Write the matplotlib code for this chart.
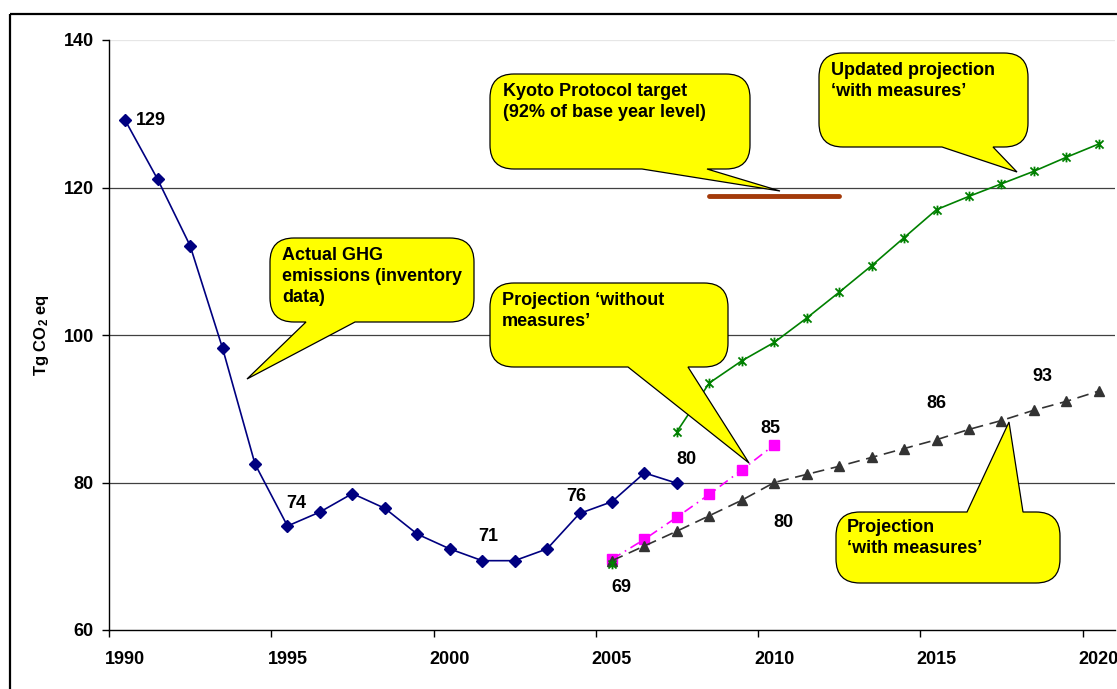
import numpy as np
import matplotlib
matplotlib.use('Agg')
import matplotlib.pyplot as plt
from matplotlib.path import Path
from matplotlib.patches import PathPatch, Rectangle
from matplotlib.transforms import Affine2D

plt.rcParams['font.family'] = ['Liberation Sans', 'DejaVu Sans']
plt.rcParams['font.weight'] = 'bold'
plt.rcParams['mathtext.fontset'] = 'custom'
plt.rcParams['mathtext.rm'] = 'Liberation Sans:bold'
plt.rcParams['mathtext.it'] = 'Liberation Sans:bold'
plt.rcParams['mathtext.bf'] = 'Liberation Sans:bold'

# data
tick_years = [1990, 1995, 2000, 2005, 2010, 2015, 2020]

actual_years = list(range(1990, 2008))
actual = [129.1, 121.1, 112.1, 98.2, 82.5, 74.1, 76.0, 78.5, 76.5, 73.0,
          71.0, 69.4, 69.4, 71.0, 75.8, 77.4, 81.3, 79.9]

without_years = list(range(2005, 2011))
without = [69.6, 72.3, 75.3, 78.4, 81.7, 85.1]

with_years = list(range(2005, 2021))
with_meas = [69.4, 71.4, 73.4, 75.5, 77.6, 80.0, 81.1, 82.2, 83.4, 84.6,
             85.8, 87.2, 88.4, 89.8, 91.0, 92.4]

updated_years = list(range(2005, 2021))
updated = [69.0, np.nan, 86.9, 93.5, 96.5, 99.0, 102.3, 105.8, 109.4, 113.2,
           117.0, 118.8, 120.5, 122.2, 124.1, 125.9]

kyoto_years = [2008, 2012]
kyoto = [118.8, 118.8]

# labels: (years, values, year, text, dx, dy, ha) offsets in pixels
point_labels = [
    (actual_years, actual, 1990, '129', 11, 0, 'left'),
    (actual_years, actual, 1995, '74', 9, 23, 'center'),
    (actual_years, actual, 2001, '71', 6, 24, 'center'),
    (actual_years, actual, 2004, '76', -3, 17, 'center'),
    (actual_years, actual, 2007, '80', 10, 24, 'center'),
    (without_years, without, 2010, '85', -4, 16, 'center'),
    (updated_years, updated, 2005, '69', 9, -24, 'center'),
    (with_years, with_meas, 2010, '80', 9, -40, 'center'),
    (with_years, with_meas, 2015, '86', 0, 36, 'center'),
    (with_years, with_meas, 2018, '93', 9, 34, 'center'),
]

W, H = 1117, 689
fig = plt.figure(figsize=(W / 100, H / 100), dpi=100)
ax = fig.add_axes([109 / W, 1 - 630 / H, 1006 / W, 590 / H])

def pos(yrs):
    return [y - 1990 + 0.5 for y in yrs]

for g in [80, 100, 120]:
    ax.axhline(g, color='#404040', lw=0.9, zorder=1)
ax.axhline(140, color='#e6e6e6', lw=0.9, zorder=1)

ax.plot(pos(actual_years), actual, color='#000080', lw=1.2, marker='D', ms=6, zorder=3)
ax.plot(pos(without_years), without, color='#ff00ff', lw=1.2, ls=(0, (6, 3, 1, 3)),
        marker='s', ms=6.5, zorder=3)
ax.plot(pos(with_years), with_meas, color='#333333', lw=1.2, ls=(0, (7, 4)),
        marker='^', ms=6.5, zorder=3)
star = Path([(-1, -1), (1, 1), (-1, 1), (1, -1), (0, -1.2), (0, 1.2)],
            [Path.MOVETO, Path.LINETO, Path.MOVETO, Path.LINETO, Path.MOVETO, Path.LINETO])
ax.plot(pos(updated_years), updated, color='#008000', lw=1.2, marker=star, ms=7,
        mew=1.3, zorder=3)
ax.plot(pos(kyoto_years), kyoto, color='#a33a0a', lw=3.5, solid_capstyle='round', zorder=3)

for yrs, vals, yr, txt, dx, dy, ha in point_labels:
    i = yrs.index(yr)
    ax.annotate(txt, (pos([yr])[0], vals[i]), xytext=(dx, dy), textcoords='offset pixels',
                ha=ha, va='center', fontsize=13, fontweight='bold', zorder=4)

ax.set_xlim(0, 31)
ax.set_ylim(60, 140)
ax.set_yticks([60, 80, 100, 120, 140])
ax.set_xticks([y - 1990 for y in tick_years])
ax.set_xticklabels([])
ax.set_xticks([y - 1990 + 0.5 for y in tick_years], minor=True)
ax.set_xticklabels([str(y) for y in tick_years], minor=True)
ax.tick_params(axis='x', which='major', direction='out', length=5, width=1)
ax.tick_params(axis='x', which='minor', length=0, pad=15, labelsize=13)
ax.tick_params(axis='y', direction='out', length=5, width=1, pad=6, labelsize=13)
for s in ['top', 'right']:
    ax.spines[s].set_visible(False)
for s in ['left', 'bottom']:
    ax.spines[s].set_linewidth(1)
ax.set_ylabel('Tg CO$_2$ eq', fontsize=12, fontweight='bold')
ax.yaxis.set_label_coords(-0.0575, 0.5)

# callouts, in pixel coordinates of the image (y downward)
px = Affine2D().scale(1 / W, -1 / H).translate(0, 1) + fig.transFigure

def callout(x0, y0, x1, y1, edge, a, b, tip, r=24):
    M, L, C = Path.MOVETO, Path.LINETO, Path.CURVE3
    v = [(x0 + r, y0)]
    c = [M]
    if edge == 'top':
        v += [(a, y0), tip, (b, y0)]
        c += [L, L, L]
    v += [(x1 - r, y0), (x1, y0), (x1, y0 + r), (x1, y1 - r), (x1, y1), (x1 - r, y1)]
    c += [L, C, C, L, C, C]
    if edge == 'bottom':
        v += [(b, y1), tip, (a, y1)]
        c += [L, L, L]
    v += [(x0 + r, y1), (x0, y1), (x0, y1 - r), (x0, y0 + r), (x0, y0), (x0 + r, y0)]
    c += [L, C, C, L, C, C]
    v.append((x0 + r, y0))
    c.append(Path.CLOSEPOLY)
    p = PathPatch(Path(v, c), transform=px, facecolor='#ffff00', edgecolor='black',
                  lw=0.9, zorder=5)
    fig.patches.append(p)

callouts = [
    (270, 238, 474, 322, 'bottom', 306, 355, (247, 379), 'Actual GHG\nemissions (inventory\ndata)', 282, 247),
    (490, 74, 750, 169, 'bottom', 642, 707, (780, 191), 'Kyoto Protocol target\n(92% of base year level)', 503, 83),
    (819, 53, 1028, 147, 'bottom', 942, 993, (1017, 172), 'Updated projection\n\u2018with measures\u2019', 831, 62),
    (490, 283, 728, 367, 'bottom', 628, 688, (749, 463), 'Projection \u2018without\nmeasures\u2019', 502, 292),
    (836, 512, 1060, 583, 'top', 967, 1023, (1009, 422), 'Projection\n\u2018with measures\u2019', 847, 519),
]
for x0, y0, x1, y1, edge, a, b, tip, txt, tx, ty in callouts:
    callout(x0, y0, x1, y1, edge, a, b, tip)
    fig.text(tx, ty, txt, transform=px, ha='left', va='top', fontsize=13,
             fontweight='bold', linespacing=1.3, zorder=6)

# outer frame
fig.patches.append(Rectangle((10.3, 14.3), 1200, 800, transform=px, fill=False,
                             edgecolor='black', lw=1.6, zorder=10))

fig.savefig('out.png', dpi=100)
